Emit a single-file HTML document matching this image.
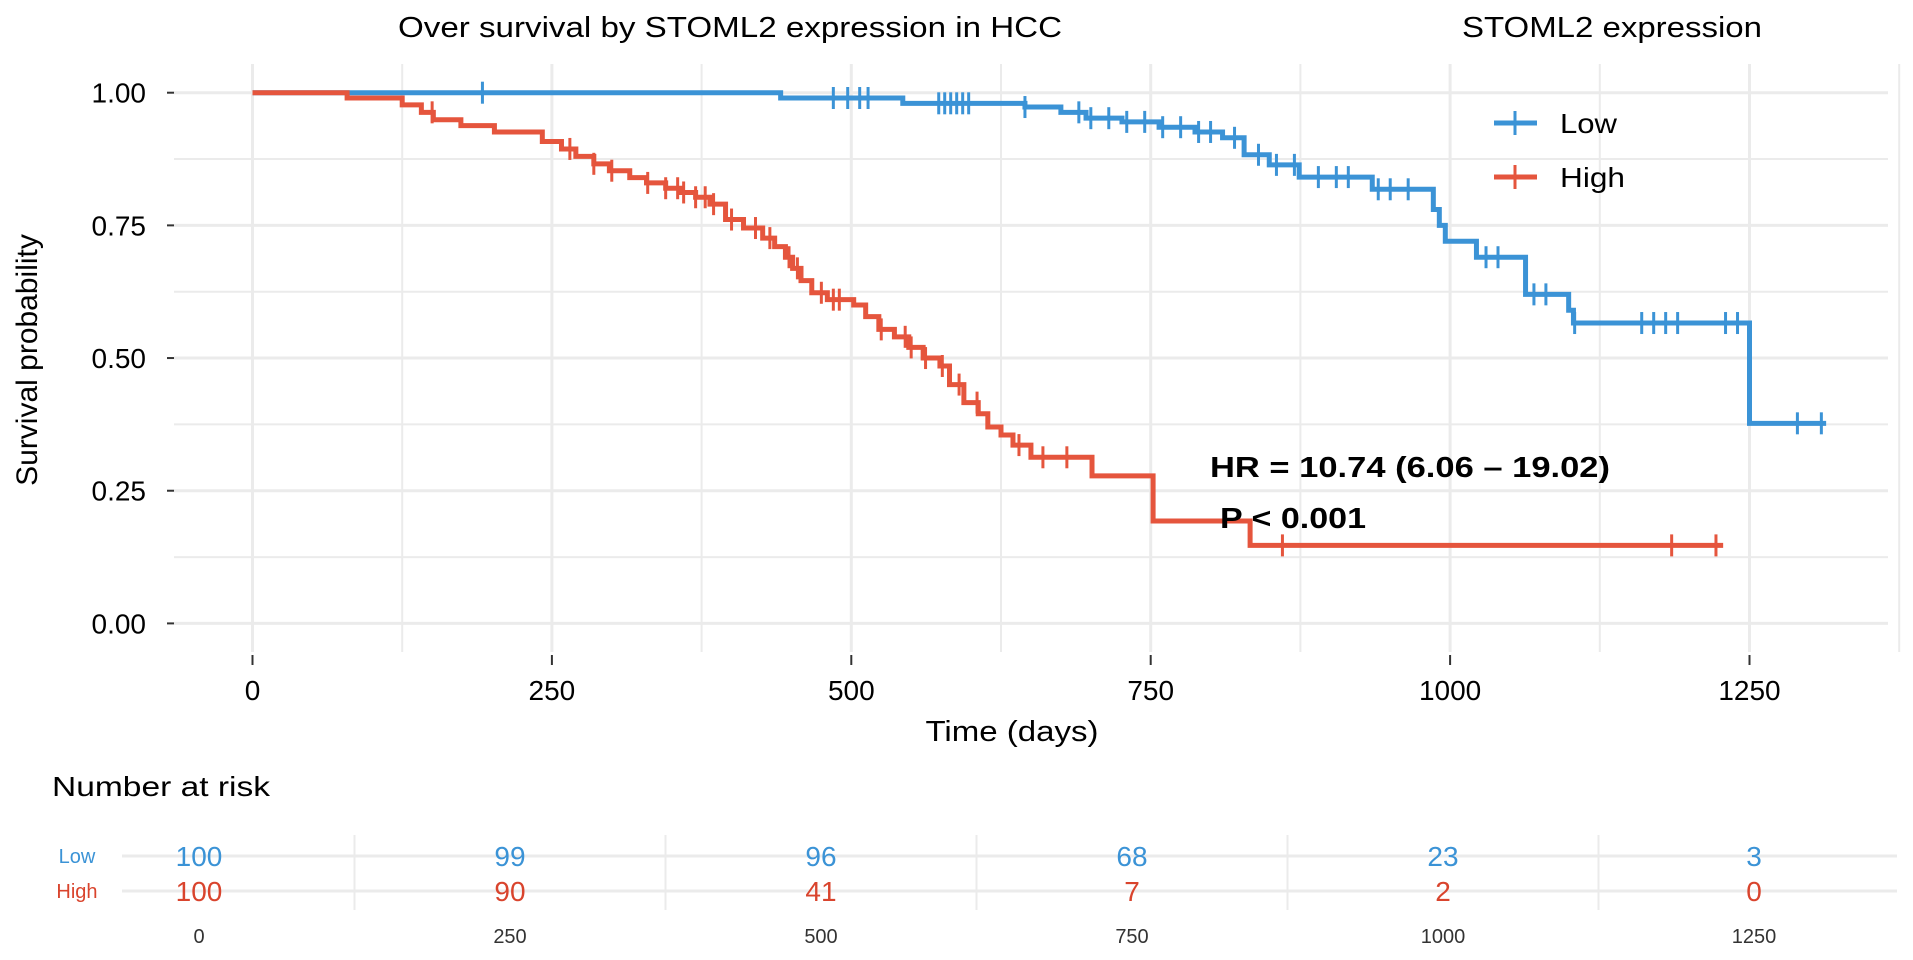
<!DOCTYPE html>
<html><head><meta charset="utf-8"><style>
html,body{margin:0;padding:0;background:#fff;}
svg{display:block;font-family:"Liberation Sans",sans-serif;}
</style></head><body>
<svg id="chart" width="1913" height="960" viewBox="0 0 1913 960">
<g id="grid"></g>
<g id="axes"></g>
<g id="curves"></g>
<text x="730" y="37" font-size="29" text-anchor="middle" textLength="664" lengthAdjust="spacingAndGlyphs">Over survival by STOML2 expression in HCC</text>
<text x="1612" y="37" font-size="29" text-anchor="middle" textLength="300" lengthAdjust="spacingAndGlyphs">STOML2 expression</text>
<g>
<line x1="1494" y1="123" x2="1537" y2="123" stroke="#3B93D6" stroke-width="5"/><line x1="1515" y1="111" x2="1515" y2="135" stroke="#3B93D6" stroke-width="3"/>
<text x="1560" y="133" font-size="28" textLength="57" lengthAdjust="spacingAndGlyphs">Low</text></g>
<g>
<line x1="1494" y1="177" x2="1537" y2="177" stroke="#E5553D" stroke-width="5"/><line x1="1515" y1="165" x2="1515" y2="189" stroke="#E5553D" stroke-width="3"/>
<text x="1560" y="187" font-size="28" textLength="65" lengthAdjust="spacingAndGlyphs">High</text></g>
<text x="1210" y="477" font-size="29" font-weight="bold" textLength="400" lengthAdjust="spacingAndGlyphs">HR = 10.74 (6.06 – 19.02)</text>
<text x="1220" y="528" font-size="29" font-weight="bold" textLength="146" lengthAdjust="spacingAndGlyphs">P &lt; 0.001</text>
<text transform="translate(37,360) rotate(-90)" font-size="30" text-anchor="middle">Survival probability</text>
<text x="1012" y="741" font-size="29" text-anchor="middle" textLength="173" lengthAdjust="spacingAndGlyphs">Time (days)</text>
<text x="52" y="796" font-size="28" textLength="218" lengthAdjust="spacingAndGlyphs">Number at risk</text>
<g id="risk"></g>
</svg>
<script>
const xTicks=[0,250,500,750,1000,1250];
const yTicks=[0,0.25,0.5,0.75,1];
const yTickLabels=["0.00","0.25","0.50","0.75","1.00"];
const lowTimes=[0,441,543,645,675,696,726,757,787,810,828,849,874,935,986,991,996,1022,1063,1099,1103,1250];
const lowSurv=[1,0.99,0.98,0.973,0.963,0.952,0.945,0.935,0.926,0.915,0.883,0.864,0.841,0.818,0.78,0.75,0.72,0.69,0.62,0.59,0.566,0.377];
const lowEnd=1314;
const lowCensor=[192,485,497,507,514,573,578,583,588,593,598,645,690,700,715,730,745,760,775,790,800,820,840,855,870,890,905,915,940,950,965,1030,1040,1070,1080,1104,1160,1170,1180,1190,1230,1240,1290,1310];
const highTimes=[0,79,125,141,151,174,202,242,258,270,285,298,315,329,345,358,370,382,395,410,426,436,445,451,458,467,480,502,512,523,536,548,560,574,582,594,606,614,625,635,650,701,752,833];
const highSurv=[1,0.99,0.977,0.963,0.949,0.938,0.926,0.908,0.894,0.88,0.866,0.853,0.84,0.83,0.82,0.812,0.803,0.79,0.761,0.745,0.726,0.71,0.69,0.669,0.646,0.623,0.61,0.6,0.578,0.554,0.54,0.52,0.5,0.485,0.45,0.416,0.395,0.37,0.355,0.336,0.313,0.278,0.193,0.147];
const highEnd=1228;
const highCensor=[150,265,285,300,330,345,355,360,370,378,385,400,420,432,448,455,475,485,490,525,545,550,562,576,590,605,640,660,680,860,1185,1222];
const riskTimes=[0,250,500,750,1000,1250];
const riskLow=[100,99,96,68,23,3];
const riskHigh=[100,90,41,7,2,0];
const NS="http://www.w3.org/2000/svg";
const X=d=>252.5+d*1.1976, Y=s=>623.4-s*530.7;
function mk(tag,attrs,parent){const e=document.createElementNS(NS,tag);for(const k in attrs)e.setAttribute(k,attrs[k]);parent.appendChild(e);return e;}
const grid=document.getElementById('grid'),axes=document.getElementById('axes'),curves=document.getElementById('curves'),risk=document.getElementById('risk');
for(let v=0;v<=1.0001;v+=0.125){const l=mk('line',{x1:174,x2:1888,y1:Y(v),y2:Y(v),stroke:'#ebebeb','stroke-width':(Math.round(v*8)%2==0)?3:2},grid);

}
for(let d=0;d<=1375;d+=125){const l=mk('line',{x1:X(d),x2:X(d),y1:64,y2:652,stroke:'#ebebeb','stroke-width':d%250==0?3:2},grid);

}
yTicks.forEach((v,i)=>{const t=mk('line',{x1:167,x2:174,y1:Y(v),y2:Y(v),stroke:'#333','stroke-width':2},axes);


const tx=mk('text',{x:146,y:Y(v)+10,'font-size':28,'text-anchor':'end'},axes);tx.textContent=yTickLabels[i];

});
xTicks.forEach(d=>{const t=mk('line',{x1:X(d),x2:X(d),y1:655,y2:665,stroke:'#333','stroke-width':2},axes);


const tx=mk('text',{x:X(d),y:700,'font-size':28,'text-anchor':'middle'},axes);tx.textContent=d;

});
function survAt(times,surv,t){let s=surv[0];for(let i=0;i<times.length;i++){if(times[i]<=t)s=surv[i];}return s;}
function drawCurve(times,surv,end,cens,color,name){
let d='M'+X(times[0])+','+Y(surv[0]);
for(let i=1;i<times.length;i++){d+=' H'+X(times[i])+' V'+Y(surv[i]);}
d+=' H'+X(end);
const p=mk('path',{d:d,fill:'none',stroke:color,'stroke-width':5},curves);


cens.forEach(c=>{const y=Y(survAt(times,surv,c));const m=mk('line',{x1:X(c),x2:X(c),y1:y-11,y2:y+11,stroke:color,'stroke-width':3},curves);

});}
drawCurve(lowTimes,lowSurv,lowEnd,lowCensor,'#3B93D6','low');
drawCurve(highTimes,highSurv,highEnd,highCensor,'#E5553D','high');
const RX=t=>199+t/250*311;
[856,891].forEach(y=>{const l=mk('line',{x1:122,x2:1897,y1:y,y2:y,stroke:'#ebebeb','stroke-width':3},risk);

});
[125,375,625,875,1125].forEach(t=>{const l=mk('line',{x1:RX(t),x2:RX(t),y1:835,y2:910,stroke:'#ebebeb','stroke-width':2},risk);

});
[['Low',856,'#3B93D6'],['High',891,'#D9442D']].forEach(r=>{const t=mk('text',{x:77,y:r[1]+7,'font-size':20,'text-anchor':'middle',fill:r[2]},risk);t.textContent=r[0];

});
riskTimes.forEach((t,i)=>{
const a=mk('text',{x:RX(t),y:866,'font-size':28,'text-anchor':'middle',fill:'#3B93D6'},risk);a.textContent=riskLow[i];


const b=mk('text',{x:RX(t),y:901,'font-size':28,'text-anchor':'middle',fill:'#D9442D'},risk);b.textContent=riskHigh[i];


const c=mk('text',{x:RX(t),y:943,'font-size':20,'text-anchor':'middle',fill:'#333'},risk);c.textContent=t;

});
</script>
</body></html>
